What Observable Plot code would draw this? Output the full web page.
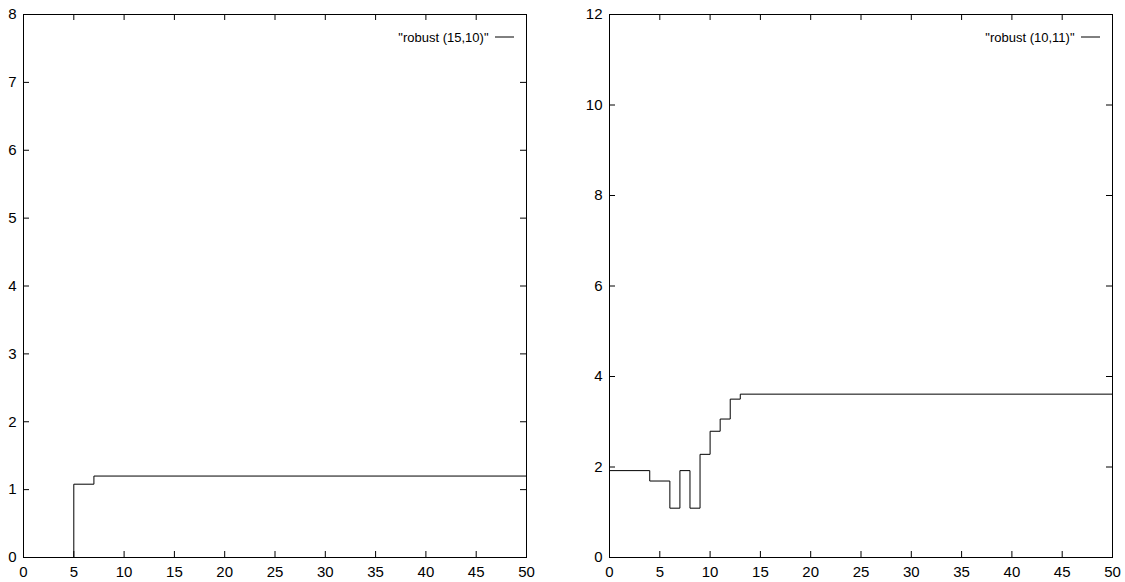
<!DOCTYPE html>
<html><head>
<script src="https://cdn.jsdelivr.net/npm/d3@7"></script>
<script src="https://cdn.jsdelivr.net/npm/@observablehq/plot@0.6"></script>
<style>body{margin:0;background:#fff}#c{display:flex}</style>
</head><body><div id="c"></div>
<script>
const leftX = [0, 5, 7, 50];
const leftY = [0, 1.08, 1.2, 1.2];
const leftLabel = '"robust (15,10)"';
const rightX = [0, 4, 6, 7, 8, 9, 10, 11, 12, 13, 50];
const rightY = [1.92, 1.69, 1.09, 1.92, 1.09, 2.28, 2.79, 3.06, 3.5, 3.61, 3.61];
const rightLabel = '"robust (10,11)"';
const xTicks = [0, 5, 10, 15, 20, 25, 30, 35, 40, 45, 50];
const leftYTicks = [0, 1, 2, 3, 4, 5, 6, 7, 8];
const rightYTicks = [0, 2, 4, 6, 8, 10, 12];

const font = "Liberation Sans Narrow, Arial Narrow, sans-serif";
const H = 582, MT = 14, MB = 25, TL = 6;
function chart(xs, ys, label, yTicks, yMax, w, ml, mr) {
  const data = xs.map((x, i) => ({x, y: ys[i]}));
  const iw = w - ml - mr, ih = H - MT - MB;
  const p = Plot.plot({
    width: w, height: H,
    marginLeft: ml, marginRight: mr, marginTop: MT, marginBottom: MB,
    style: {fontFamily: font, fontSize: "15px", color: "#000", background: "#fff"},
    x: {domain: [0, 50]},
    y: {domain: [0, yMax]},
    marks: [
      Plot.frame({stroke: "#000"}),
      Plot.axisX({anchor: "bottom", ticks: xTicks, tickSize: 0, tickPadding: 9, label: null}),
      Plot.axisY({anchor: "left", ticks: yTicks, tickSize: 0, tickPadding: 7, label: null}),
      Plot.tickX(xTicks, {x: d => d, insetTop: ih - TL, stroke: "#000"}),
      Plot.tickX(xTicks, {x: d => d, insetBottom: ih - TL, stroke: "#000"}),
      Plot.tickY(yTicks, {y: d => d, insetRight: iw - TL, stroke: "#000"}),
      Plot.tickY(yTicks, {y: d => d, insetLeft: iw - TL, stroke: "#000"}),
      Plot.line(data, {x: "x", y: "y", curve: "step-after", stroke: "#000", strokeWidth: 1}),
      Plot.text([label], {text: d => d, frameAnchor: "top-right", dx: -38, dy: 23, textAnchor: "end", lineAnchor: "middle", fontSize: 13})
    ]
  });
  // legend line sample
  d3.select(p).append("line")
    .attr("x1", w - mr - 31).attr("x2", w - mr - 12)
    .attr("y1", MT + 23).attr("y2", MT + 23)
    .attr("stroke", "#000").attr("stroke-width", 1);
  return p;
}
const c = document.getElementById("c");
c.append(chart(leftX, leftY, leftLabel, leftYTicks, 8, 562, 23, 36));
c.append(chart(rightX, rightY, rightLabel, rightYTicks, 12, 563, 47, 13));
</script></body></html>
